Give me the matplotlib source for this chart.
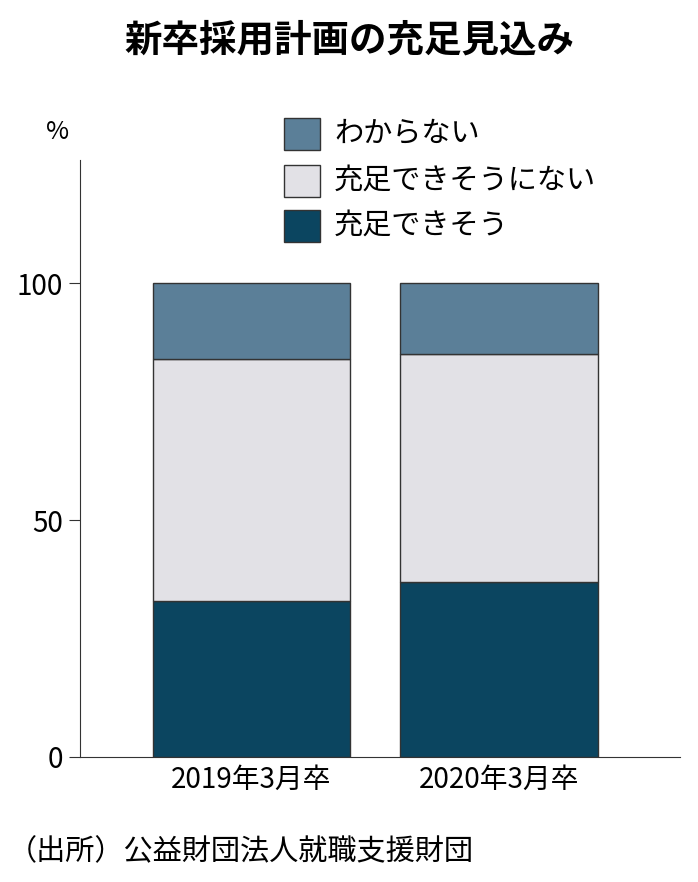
import matplotlib
matplotlib.use("Agg")
import matplotlib.pyplot as plt
from matplotlib.patches import Rectangle

plt.rcParams['font.family'] = ['Noto Sans CJK JP', 'DejaVu Sans']

categories = ["2019年3月卒", "2020年3月卒"]
series_names = ["充足できそう", "充足できそうにない", "わからない"]
can_fill = [33, 37]
cannot_fill = [51, 48]
unknown = [16, 15]
colors = ["#0b4560", "#e2e1e6", "#5b7f98"]
yticks = [0, 50, 100]

fig = plt.figure(figsize=(6.98, 8.82), dpi=100)
ax = fig.add_axes([80/698, 125/882, 600/698, 597/882])

x = list(range(len(categories)))
bottom = [0, 0]
for vals, c, name in zip([can_fill, cannot_fill, unknown], colors, series_names):
    ax.bar(x, vals, bottom=bottom, width=0.795, color=c, edgecolor="#333333", linewidth=1.0, label=name)
    bottom = [b + v for b, v in zip(bottom, vals)]

ax.set_xlim(-0.69, 1.73)
ax.set_ylim(0, 126)
ax.set_yticks(yticks)
ax.set_yticklabels([str(t) for t in yticks], fontsize=20)
ax.set_xticks(x)
ax.set_xticklabels(categories, fontsize=20)
for s in ["top", "right"]:
    ax.spines[s].set_visible(False)
ax.spines["left"].set_color("#333333")
ax.spines["bottom"].set_color("#333333")
ax.tick_params(axis="y", length=8, color="#333333", pad=4)
ax.tick_params(axis="x", length=0, pad=6)

# legend
ys = [226, 181, 134]
for y, c, name in zip(ys, colors, series_names):
    fig.patches.append(Rectangle((284/698, 1 - (y + 16)/882), 36/698, 32/882,
                                 transform=fig.transFigure, facecolor=c, edgecolor="#333333", lw=1))
    fig.text(334/698, 1 - y/882, name, fontsize=21, va="center", ha="left")

fig.text(46/698, 1 - 132/882, "%", fontsize=18, va="center", ha="left")
fig.text(0.5, 1 - 40/882, "新卒採用計画の充足見込み", fontsize=27, fontweight="bold", ha="center", va="center")
fig.text(8/698, 1 - 852/882, "（出所）公益財団法人就職支援財団", fontsize=21, ha="left", va="center")

fig.savefig("out.png", dpi=100)
